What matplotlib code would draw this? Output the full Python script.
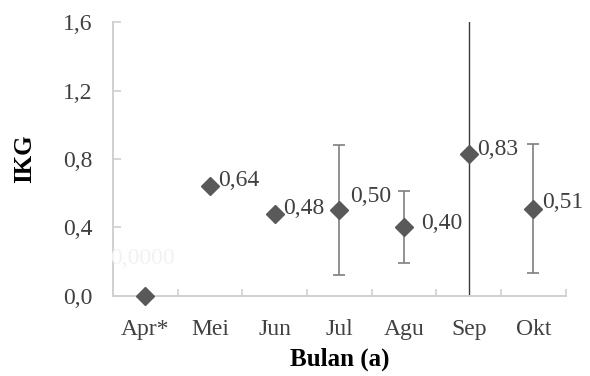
import numpy as np
import matplotlib
matplotlib.use("Agg")
import matplotlib.pyplot as plt

# data
bulan = ["Apr*", "Mei", "Jun", "Jul", "Agu", "Sep", "Okt"]
ikg = [0.0, 0.64, 0.48, 0.50, 0.40, 0.83, 0.51]
err = [np.nan, np.nan, np.nan, 0.38, 0.21, 0.83, 0.38]
labels = ["0,0000", "0,64", "0,48", "0,50", "0,40", "0,83", "0,51"]

# label offsets in points (style only)
offsets = [(-25, 27), (6, 4), (6, 4), (8, 10), (12, 3), (6, 3), (6, 4)]
label_colors = ["#f2f2f2"] + ["#404040"] * 6

plt.rcParams['font.family'] = ['Liberation Serif', 'DejaVu Serif']

fig = plt.figure(figsize=(5.9, 3.76), dpi=100)
ax = fig.add_axes([0.1915, 0.2136, 0.959 - 0.1915, 0.9407 - 0.2136])

x = np.arange(len(bulan))
ikg = np.array(ikg)
err = np.array(err)

# grey error bars (Jul, Agu, Okt)
grey = [3, 4, 6]
ax.errorbar(x[grey], ikg[grey], yerr=err[grey], fmt='none', ecolor='#7f7f7f',
            elinewidth=1.2, capsize=4, capthick=1.2, zorder=2)
# Sep bar, darker and without caps
ax.errorbar(x[5], ikg[5], yerr=err[5], fmt='none', ecolor='#3a3a3a',
            elinewidth=1.0, capsize=0, zorder=2)

ax.plot(x, ikg, linestyle='none', marker='D', ms=9, color='#595959',
        zorder=3, clip_on=False)

for i in range(len(x)):
    ax.annotate(labels[i], (x[i], ikg[i]), xytext=offsets[i],
                textcoords='offset points', ha='left', va='center',
                fontsize=17, color=label_colors[i])

ax.set_xlim(-0.5, len(bulan) - 0.5)
ax.set_ylim(0, 1.6)
ax.set_yticks([0, 0.4, 0.8, 1.2, 1.6])
ax.set_yticklabels(["0,0", "0,4", "0,8", "1,2", "1,6"])
ax.set_xticks(x)
ax.set_xticklabels(bulan)
ax.set_xticks(np.arange(-0.5, len(bulan)), minor=True)

for s in ['top', 'right']:
    ax.spines[s].set_visible(False)
for s in ['left', 'bottom']:
    ax.spines[s].set_color('#d0d0d0')
    ax.spines[s].set_linewidth(1.4)

ax.tick_params(axis='y', direction='in', length=6, width=1.2, color='#d0d0d0',
               labelsize=17, labelcolor='#404040', pad=15)
ax.tick_params(axis='x', which='major', length=0, labelsize=17,
               labelcolor='#404040', pad=17)
ax.tick_params(axis='x', which='minor', direction='in', length=5, width=1.2,
               color='#d0d0d0')

ax.set_ylabel("IKG", fontsize=18, fontweight='bold', labelpad=19)
ax.set_xlabel("Bulan (a)", fontsize=18, fontweight='bold', labelpad=5)

fig.savefig("out.png", dpi=100)
